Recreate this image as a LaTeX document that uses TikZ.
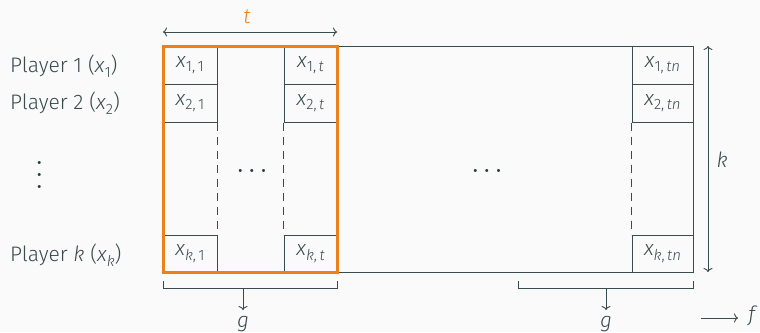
\documentclass[tikz,border=0pt]{standalone}
\usepackage{fontspec}
\setmainfont{Fira Sans}[UprightFont=* Light, ItalicFont=* Light Italic]
\newfontfamily\regf{Fira Sans}
\usetikzlibrary{arrows.meta}
\definecolor{fg}{HTML}{3A4B4E}
\definecolor{dk}{HTML}{23373B}
\definecolor{org}{HTML}{EB811B}
\definecolor{bgc}{HTML}{FAFAFA}
\newcommand{\sbs}[1]{\raisebox{-0.22em}{\fontsize{15}{15}\selectfont #1}}
\newcommand{\vx}[1]{\textit{x}\sbs{#1}}
\newcommand{\hdots}{{\regf ·\kern6.5pt·\kern6.5pt·}}
\begin{document}
\begin{tikzpicture}[x=1pt,y=-1pt,
  font=\fontsize{21}{25}\selectfont, color=fg,
  cell/.style={draw=fg, line width=1pt, inner sep=0pt, minimum height=38, anchor=center},
  frame/.style={draw=fg, line width=1pt, inner sep=0pt},
  ofr/.style={draw=org, line width=3pt, inner sep=0pt},
  conn/.style={line width=0.9pt, -{To[length=4pt,width=9pt]}},
  dconn/.style={line width=0.9pt, {To[length=4pt,width=9pt]}-{To[length=4pt,width=9pt]}},
  dsh/.style={line width=1pt, dash pattern=on 8pt off 6pt},
  lbl/.style={inner sep=0pt, anchor=west},
  dotn/.style={inner sep=0pt, text=dk}]
\fill[bgc] (0,0) rectangle (760,332);
\useasboundingbox (0,0) rectangle (760,332);

% main frame
\node[frame, minimum width=530, minimum height=226] (M) at (428,159) {};

% cells
\node[cell, minimum width=54] (a1) at (190,65) {\vx{1,\,1}};
\node[cell, minimum width=54] (a2) at (190,103) {\vx{2,\,1}};
\node[cell, minimum width=54, minimum height=37] (ak) at (190,253.5) {\vx{\textit{k},\,1}};
\node[cell, minimum width=53] (b1) at (310.5,65) {\vx{1,\,\textit{t}}};
\node[cell, minimum width=53] (b2) at (310.5,103) {\vx{2,\,\textit{t}}};
\node[cell, minimum width=53, minimum height=37] (bk) at (310.5,253.5) {\vx{\textit{k},\,\textit{t}}};
\node[cell, minimum width=61] (c1) at (662.5,65) {\vx{1,\,\textit{tn}}};
\node[cell, minimum width=61] (c2) at (662.5,103) {\vx{2,\,\textit{tn}}};
\node[cell, minimum width=61, minimum height=37] (ck) at (662.5,253.5) {\vx{\textit{k},\,\textit{tn}}};

% dashed column lines
\draw[dsh] (a2.south east) -- (ak.north east);
\draw[dsh] (b2.south west) -- (bk.north west);
\draw[dsh] (c2.south west) -- (ck.north west);

% dots
\node[dotn] (d1) at (252,174) {\hdots};
\node[dotn] (d2) at (487,174) {\hdots};

% orange frame
\node[ofr, minimum width=174, minimum height=226] (O) at (250,159) {};

% t arrow
\coordinate (tl) at (163,32);
\coordinate (tr) at (337,32);
\draw[dconn] (tl) -- (tr);
\node[org] (t) at (247,17) {\textit{t}};

% k arrow
\coordinate (kt) at (708,46);
\coordinate (kb) at (708,272);
\draw[dconn] (kt) -- (kb);
\node (k) at (722,160) {\textit{k}};

% players
\node[lbl] (p1) at (10,66.5) {Player 1 (\vx{1})};
\node[lbl] (p2) at (10,103.5) {Player 2 (\vx{2})};
\node[dotn, rotate=90] (pd) at (42,175) {\hdots};
\node[lbl] (pk) at (10,255) {Player \textit{k} (\vx{\textit{k}})};

% brackets
\draw[line width=1pt] (163,281) -- (163,288) -- (337,288) -- (337,281);
\draw[line width=1pt] (518,281) -- (518,288) -- (693,288) -- (693,281);
\coordinate (g1s) at (243,288);
\coordinate (g1e) at (243,310);
\coordinate (g2s) at (606,288);
\coordinate (g2e) at (606,310);
\draw[conn] (g1s) -- (g1e);
\draw[conn] (g2s) -- (g2e);
\node (g1) at (243,324) {\textit{g}};
\node (g2) at (606,324) {\textit{g}};

% f
\coordinate (fs) at (701,318);
\coordinate (fe) at (738,318);
\draw[conn] (fs) -- (fe);
\node (f) at (753,316) {\textit{f}};
\end{tikzpicture}
\end{document}
